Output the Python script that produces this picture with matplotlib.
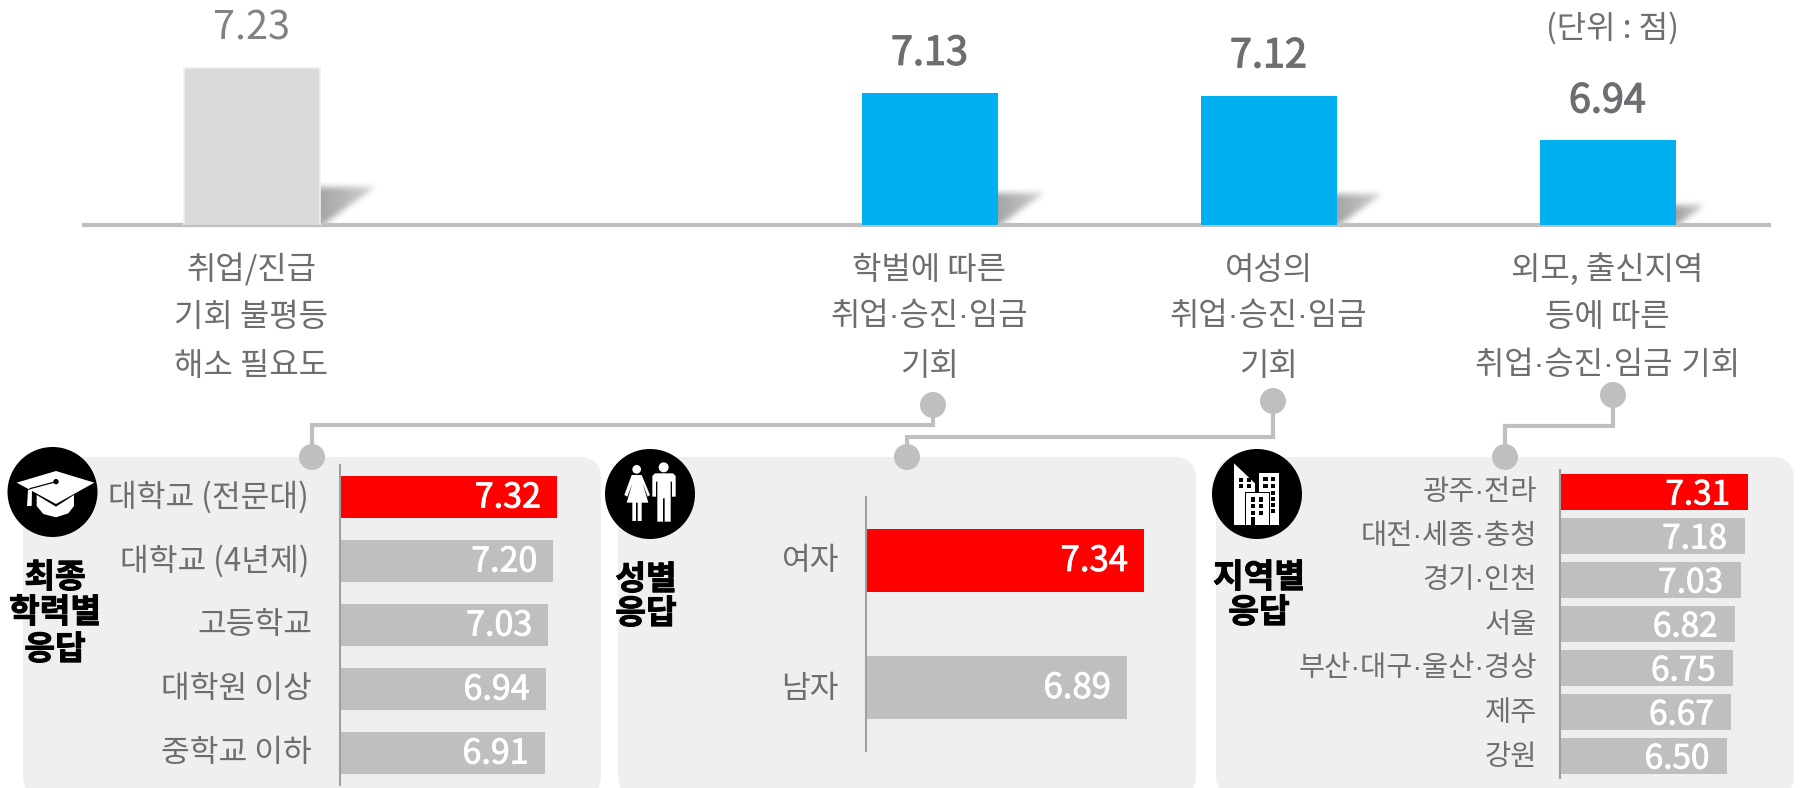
import matplotlib
matplotlib.use("Agg")
import numpy as np
import matplotlib.pyplot as plt
import matplotlib.patheffects as pe
from matplotlib.patches import FancyBboxPatch, Ellipse, Polygon, Rectangle

plt.rcParams['font.family'] = ['Noto Sans CJK KR', 'DejaVu Sans']

# ---------- data ----------
top_positions = [0, 2, 3, 4]
top_values = [7.23, 7.13, 7.12, 6.94]
top_labels = [["취업/진급", "기회 불평등", "해소 필요도"],
              ["학벌에 따른", "취업·승진·임금", "기회"],
              ["여성의", "취업·승진·임금", "기회"],
              ["외모, 출신지역", "등에 따른", "취업·승진·임금 기회"]]
edu_labels = ["대학교 (전문대)", "대학교 (4년제)", "고등학교", "대학원 이상", "중학교 이하"]
edu_values = [7.32, 7.20, 7.03, 6.94, 6.91]
gender_labels = ["여자", "남자"]
gender_values = [7.34, 6.89]
region_labels = ["광주·전라", "대전·세종·충청", "경기·인천", "서울", "부산·대구·울산·경상", "제주", "강원"]
region_values = [7.31, 7.18, 7.03, 6.82, 6.75, 6.67, 6.50]

W, H = 1800, 788
TXT = '#6d6e71'
GREY = '#bfbfbf'
DOT_FONT = ['Liberation Sans', 'Noto Sans CJK KR']   # narrower middle dot
fig = plt.figure(figsize=(W/100, H/100), dpi=100, facecolor='white')

def fam(s):
    return DOT_FONT if '·' in s else ['Noto Sans CJK KR', 'DejaVu Sans']

def px_axes(x0, y0, x1, y1, z):
    ax = fig.add_axes([x0/W, 1-y1/H, (x1-x0)/W, (y1-y0)/H], zorder=z)
    ax.patch.set_alpha(0)
    return ax

# pixel-space layers for the decoration
bg = px_axes(0, 0, W, H, 0)
fg = px_axes(0, 0, W, H, 5)
for a in (bg, fg):
    a.set_xlim(0, W); a.set_ylim(H, 0); a.axis('off')

# panels
for x0, x1 in [(23, 601), (618, 1196), (1216, 1794)]:
    bg.add_patch(FancyBboxPatch((x0+22, 457+22), x1-x0-44, 340-44,
                                boxstyle="round,pad=22,rounding_size=22",
                                fc='#efefef', ec='none', clip_on=True))

# ---------- top chart ----------
ORG, STEP, PPU = 251.5, 339, 250
X0, X1, BASE = 84, 1769, 225
ymin = 7.502 - BASE/PPU
ax = px_axes(X0, 0, X1, BASE, 2)
ax.set_xlim((X0-ORG)/STEP, (X1-ORG)/STEP)
ax.set_ylim(ymin, 7.502)
colors = ['#d9d9d9', '#00b0f0', '#00b0f0', '#00b0f0']
bars = ax.bar(top_positions, top_values, width=136/STEP, color=colors, zorder=3)
bars[0].set_edgecolor('#f0f0f0'); bars[0].set_linewidth(1.2)
for s in ('top', 'left', 'right'):
    ax.spines[s].set_visible(False)
ax.spines['bottom'].set_color(GREY); ax.spines['bottom'].set_linewidth(3)
ax.set_xticks([]); ax.set_yticks([])

def shadow(xr, bar_h):
    """Soft triangular shadow to the right of a bar, sized from its height."""
    sh, sw = 0.25*bar_h, 0.36*bar_h
    pad = 12
    ny, nx = int(sh)+pad*2, int(sw)+pad*2
    yy, xx = np.mgrid[0:ny, 0:nx]
    u = (xx-pad)/sw
    v = (yy-pad)/sh
    m = ((u >= -0.4) & (v >= 0.05) & (v <= 1.3) & (u <= 1-v*0.95)).astype(float)
    k = np.ones(7)/7
    for _ in range(2):
        m = np.apply_along_axis(lambda r: np.convolve(r, k, 'same'), 0, m)
        m = np.apply_along_axis(lambda r: np.convolve(r, k, 'same'), 1, m)
    m *= np.clip(1-0.5*np.clip(u, 0, 1), 0, 1)
    rgba = np.zeros((ny, nx, 4)); rgba[..., :3] = 0.53; rgba[..., 3] = m*0.75
    top = BASE-1-sh-pad
    keep = int(BASE-1-top)
    bg.imshow(rgba[:keep], extent=(xr-pad, xr-pad+nx, top+keep, top), aspect='auto',
              interpolation='bilinear', zorder=1)
    bg.set_xlim(0, W); bg.set_ylim(H, 0)

for i, (p, v) in enumerate(zip(top_positions, top_values)):
    ax.annotate(f"{v:.2f}", (p, v), xytext=(0, 31.5), textcoords='offset points',
                ha='center', va='center_baseline', fontsize=28.5,
                color='#808285' if i == 0 else TXT, annotation_clip=False,
                path_effects=None if i == 0 else
                [pe.withStroke(linewidth=0.9, foreground=TXT)])
    shadow(ORG + p*STEP + 68, (v-ymin)*PPU)
    for line, y in zip(top_labels[i], (270, 317, 366)):
        fg.text(ORG + p*STEP, y, line, ha='center', va='center', fontsize=23, color=TXT,
                family=fam(line))
fg.text(1613, 28, "(단위 : 점)", ha='center', va='center', fontsize=23, color=TXT)

# ---------- lower panels ----------
def hpanel(rect, xscale, labels, values, bar_h, lab_x, lab_fs, val_fs, inset, dy_lab, dy_val):
    x0, y0, x1, y1 = rect
    a = px_axes(x0, y0, x1, y1, 2)
    a.set_xlim(0, (x1-x0)/xscale)
    a.set_ylim(len(values)-0.5, -0.5)
    cols = ['#ff0000'] + ['#bfbfbf']*(len(values)-1)
    a.barh(range(len(values)), values, height=bar_h, color=cols, zorder=2)
    for s in ('top', 'right', 'bottom'):
        a.spines[s].set_visible(False)
    a.spines['left'].set_color('#a0a0a0'); a.spines['left'].set_linewidth(1.5)
    a.set_xticks([]); a.set_yticks([])
    for i, (l, v) in enumerate(zip(labels, values)):
        a.annotate(f"{v:.2f}", (v, i), xytext=(-inset*0.72, -dy_val*0.72), textcoords='offset points',
                   ha='right', va='center', fontsize=val_fs, color='white',
                   path_effects=[pe.withStroke(linewidth=0.6, foreground='white')])
        yy = y0 + (i+0.5)*(y1-y0)/len(values)
        lx = lab_x - 3 if l.endswith(')') else lab_x
        fg.text(lx, yy+dy_lab, l, ha='right', va='center', fontsize=lab_fs, color=TXT, family=fam(l))

hpanel((339.5, 465, 600, 785), 29.7, edu_labels, edu_values, 0.67, 312, 22.5, 24.5, 16, 0, 1)
hpanel((866, 497, 1190, 751), 37.9, gender_labels, gender_values, 0.5, 839, 22.5, 25, 16, 1, 1)
hpanel((1560, 470, 1790, 778), 25.7, region_labels, region_values, 0.83, 1537, 20.5, 24, 18, 1, 3)

# ---------- section titles ----------
def title(cx, lines):
    for t, y in lines:
        fg.text(cx, y, t, ha='center', va='center', fontsize=24, color='black', fontweight='bold',
                path_effects=[pe.withStroke(linewidth=0.7, foreground='black')])
title(55, [("최종", 578), ("학력별", 613), ("응답", 650)])
title(646, [("성별", 580), ("응답", 614)])
title(1259, [("지역별", 578), ("응답", 613)])

# ---------- connectors ----------
paths = [[(933, 405), (933, 425), (312, 425), (312, 457)],
         [(1273, 401), (1273, 437), (907, 437), (907, 457)],
         [(1613, 395), (1613, 426), (1505, 426), (1505, 457)]]
for p in paths:
    fg.plot([q[0] for q in p], [q[1] for q in p], color=GREY, lw=3, solid_joinstyle='miter', zorder=1)
    for q in (p[0], p[-1]):
        fg.add_patch(Ellipse(q, 26, 26, fc=GREY, ec='none', zorder=2))

# ---------- icons ----------
for c in [(52.5, 492), (650, 494), (1257, 494)]:
    fg.add_patch(Ellipse(c, 90, 90, fc='black', ec='none', zorder=3))

def zpoly(pts, ox, oy, fc='white'):
    fg.add_patch(Polygon([(ox+x/3, oy+y/3) for x, y in pts], fc=fc, ec='none', zorder=4))
def zrect(x0, y0, x1, y1, ox, oy, fc='white'):
    fg.add_patch(Rectangle((ox+x0/3, oy+y0/3), (x1-x0)/3, (y1-y0)/3, fc=fc, ec='none', zorder=4))
def zcirc(cx, cy, r, ox, oy, fc='white'):
    fg.add_patch(Ellipse((ox+cx/3, oy+cy/3), 2*r/3, 2*r/3, fc=fc, ec='none', zorder=4))

# graduation cap
o = (0, 440)
zpoly([(110,165),(168,200),(222,165),(222,198),(205,220),(168,232),(130,222),(110,198)], *o)
zpoly([(50,128),(168,93),(283,128),(168,192)], *o)
zpoly([(84,150),(96,150),(95,198),(81,198)], *o)
fg.plot([168/3, 90/3], [440+125/3, 440+146/3], color='black', lw=0.9, zorder=5)
zcirc(168, 125, 8, *o, fc='black')

# people
o = (600, 440)
zcirc(110, 88, 13, *o)
zpoly([(95,105),(125,105),(150,165),(143,170),(128,130),(145,188),(125,188),(125,243),(113,243),
       (113,188),(108,188),(108,243),(97,243),(97,188),(80,188),(97,130),(82,170),(73,165)], *o)
zcirc(191, 82, 15, *o)
zpoly([(165,100),(219,100),(227,108),(227,170),(216,170),(216,125),(212,125),(212,245),(194,245),
       (194,175),(189,175),(189,245),(172,245),(172,125),(168,125),(168,170),(157,170),(157,108)], *o)

# buildings
o = (1210, 440)
zpoly([(72,70),(135,130),(135,255),(72,255)], *o)
zrect(148, 100, 208, 255, *o)
zrect(105, 155, 181, 258, *o, fc='black')
zrect(108, 158, 178, 255, *o)
for x, y in [(87,113),(110,113),(87,133),(110,133),(160,112),(183,112),(160,133),(183,133),
             (183,153),(183,171),(183,190),(183,208)]:
    zrect(x, y, x+13, y+12, *o, fc='black')
for x in (123, 147):
    for y in (171, 191, 212):
        zrect(x, y, x+12, y+14, *o, fc='black')
zrect(123, 232, 135, 255, *o, fc='black')

fig.savefig('out.png', dpi=100, facecolor='white')
